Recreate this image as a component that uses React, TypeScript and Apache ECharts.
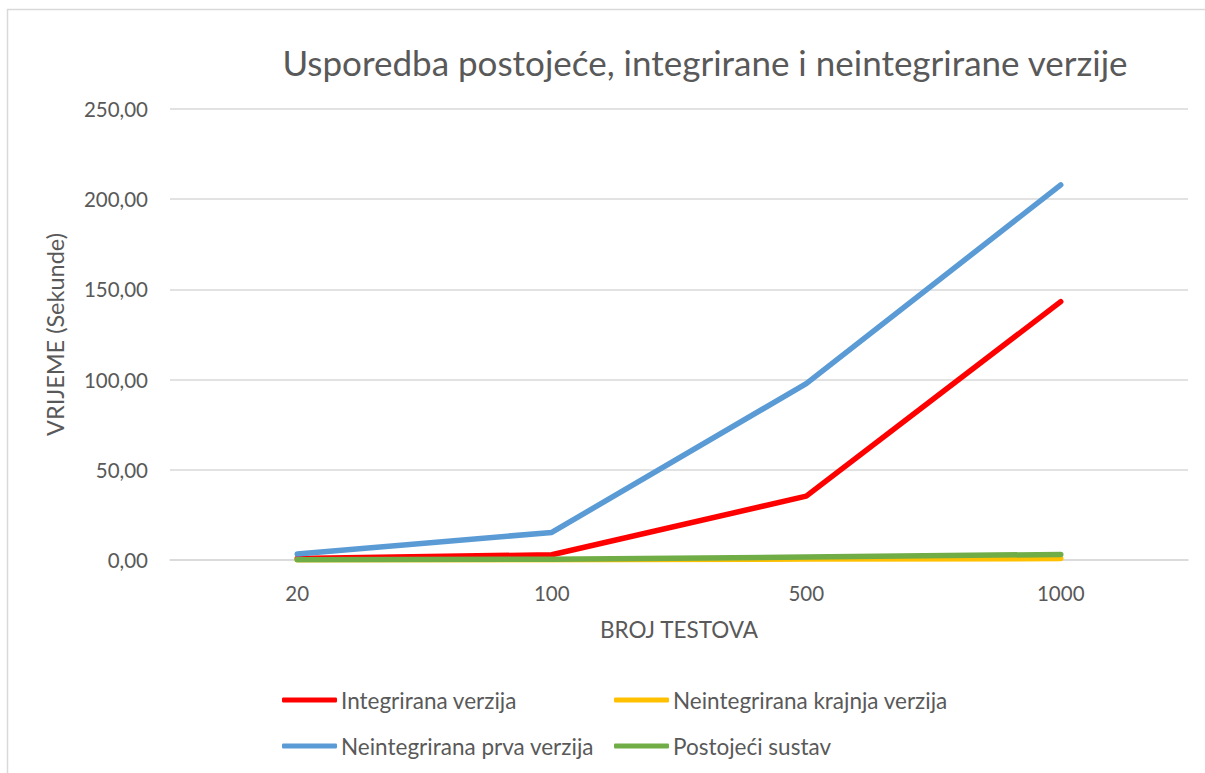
import React, { useEffect, useRef } from "react";
import * as echarts from "echarts";

const categories = ["20", "100", "500", "1000"];
const integrirana = [0.9, 2.9, 35.4, 143.2];
const neintKrajnja = [0.1, 0.2, 0.5, 0.8];
const neintPrva = [3.3, 15.3, 97.8, 207.9];
const postojeci = [0.2, 0.4, 1.6, 3.1];
const yTicks = { min: 0, max: 250, interval: 50 };

const FONT = "Lato";
const GREY = "#595959";

export default function App() {
  const ref = useRef<HTMLDivElement>(null);
  useEffect(() => {
    if (!ref.current) return;
    const chart = echarts.init(ref.current, undefined, { renderer: "svg" });
    const mk = (name: string, data: number[], color: string) => ({
      name,
      type: "line",
      data,
      symbol: "none",
      lineStyle: { color, width: 5.5, cap: "round", join: "round" },
      itemStyle: { color },
    });
    const legendBase = {
      orient: "horizontal",
      icon: "roundRect",
      itemWidth: 55,
      itemHeight: 5,
      itemGap: 0,
      padding: 0,
      textStyle: {
        fontFamily: FONT,
        fontSize: 22.5,
        lineHeight: 24,
        color: GREY,
        padding: [0, 0, 0, -1],
      },
    };
    chart.setOption({
      animation: false,
      backgroundColor: "#ffffff",
      textStyle: { fontFamily: FONT },
      graphic: [
        {
          type: "rect",
          shape: { x: 7.5, y: 9.5, width: 1400, height: 1000 },
          style: { fill: "none", stroke: "#d9d9d9", lineWidth: 1.5 },
          silent: true,
        },
        {
          type: "text",
          x: 705,
          y: 62,
          style: {
            text: "Usporedba postojeće, integrirane i neintegrirane verzije",
            textAlign: "center",
            textVerticalAlign: "middle",
            fontFamily: FONT,
            fontSize: 35,
            fill: GREY,
          },
        },
      ],
      grid: { left: 170, right: 17, top: 109, bottom: 213 },
      xAxis: {
        type: "category",
        data: categories,
        boundaryGap: true,
        name: "BROJ TESTOVA",
        nameLocation: "middle",
        nameGap: 58,
        nameTextStyle: { fontFamily: FONT, fontSize: 22.5, color: GREY },
        axisLine: { show: true, lineStyle: { color: "#d9d9d9", width: 1.5 } },
        axisTick: { show: false },
        axisLabel: { margin: 22, fontFamily: FONT, fontSize: 20.5, color: GREY },
        splitLine: { show: false },
      },
      yAxis: {
        type: "value",
        min: yTicks.min,
        max: yTicks.max,
        interval: yTicks.interval,
        name: "VRIJEME (Sekunde)",
        nameLocation: "middle",
        nameRotate: 90,
        nameGap: 103,
        nameTextStyle: { fontFamily: FONT, fontSize: 23.5, color: GREY },
        axisLine: { show: false },
        axisTick: { show: false },
        axisLabel: {
          margin: 22,
          fontFamily: FONT,
          fontSize: 20.5,
          color: GREY,
          formatter: (v: number) => v.toFixed(2).replace(".", ","),
        },
        splitLine: { lineStyle: { color: "#d9d9d9", width: 1.5 } },
      },
      legend: [
        { ...legendBase, data: ["Integrirana verzija"], left: 282, top: 688 },
        { ...legendBase, data: ["Neintegrirana krajnja verzija"], left: 614, top: 688 },
        { ...legendBase, data: ["Neintegrirana prva verzija"], left: 282, top: 734 },
        { ...legendBase, data: ["Postojeći sustav"], left: 614, top: 734 },
      ],
      series: [
        mk("Integrirana verzija", integrirana, "#ff0000"),
        mk("Neintegrirana krajnja verzija", neintKrajnja, "#ffc000"),
        mk("Neintegrirana prva verzija", neintPrva, "#5b9bd5"),
        mk("Postojeći sustav", postojeci, "#70ad47"),
      ],
    });
    return () => chart.dispose();
  }, []);
  return (
    <div
      ref={ref}
      style={{ position: "fixed", left: 0, top: 0, width: 1205, height: 773 }}
    />
  );
}
